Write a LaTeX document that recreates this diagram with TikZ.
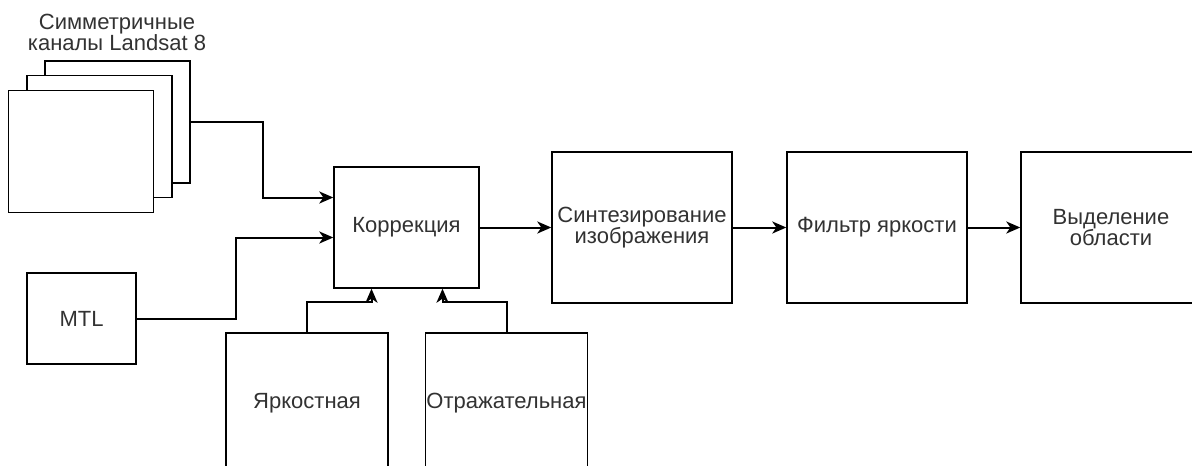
\documentclass[tikz,border=0pt]{standalone}
\usepackage{fontspec}
\setmainfont{Liberation Sans}
\usepackage{tikz}
\usetikzlibrary{arrows.meta,positioning,calc}
\usepackage{xcolor}
\definecolor{TextGray}{RGB}{50,50,50}
\tikzset{
  basebox/.style={rectangle,draw=black,line width=1.4pt,fill=white,
    align=center,text=TextGray,inner sep=0pt,
    font=\fontsize{22}{21.5}\selectfont},
  chanbox/.style={basebox,minimum width=145pt,minimum height=122pt},
  procbox/.style={basebox,minimum width=145pt,minimum height=121pt},
  widebox/.style={basebox,minimum width=180pt,minimum height=151pt},
  srcbox/.style={basebox,minimum width=109pt,minimum height=91pt},
  tablebox/.style={basebox,minimum width=162pt,minimum height=140pt},
  flowarrow/.style={draw=black,line width=2pt,
    -{Stealth[length=14pt,width=12pt,inset=4pt]}}
}

\begin{document}
\begin{tikzpicture}[x=1pt,y=-1pt,
  lbl/.style={basebox,draw=none,fill=none}]
  \useasboundingbox (0,0) rectangle (1192,466);
  \node[chanbox] (ch3) at (117.5,122) {};
  \node[chanbox] (ch2) at (99.5,136.5) {};
  \node[chanbox] (ch1) at (81,151.5) {};
  \node[lbl] (chlbl) at (117,32.5) {Симметричные\\каналы Landsat 8};
  \node[procbox] (korr) at (406.5,227.5) {Коррекция};
  \node[srcbox] (mtl) at (81.5,318.5) {MTL};
  \node[tablebox] (jark) at (307,403) {Яркостная};
  \node[tablebox] (otr) at (506.5,403) {Отражательная};
  \node[widebox] (synt) at (642,227.5) {Синтезирование\\изображения};
  \node[widebox] (filt) at (877,227.5) {Фильтр яркости};
  \node[widebox] (vyd) at (1111,227.5) {Выделение\\области};
  \draw[flowarrow] (ch3.east) -- ++(72,0) |- ([yshift=30pt]korr.west);
  \draw[flowarrow] (mtl.east) -- ++(99,0) |- ([yshift=-10pt]korr.west);
  \draw[flowarrow] (jark.north) -- ++(0,-30) -| ([xshift=-35pt]korr.south);
  \draw[flowarrow] (otr.north) -- ++(0,-30) -| ([xshift=36pt]korr.south);
  \foreach \a/\b in {korr/synt,synt/filt,filt/vyd} \draw[flowarrow] (\a)--(\b);
\end{tikzpicture}
\end{document}
